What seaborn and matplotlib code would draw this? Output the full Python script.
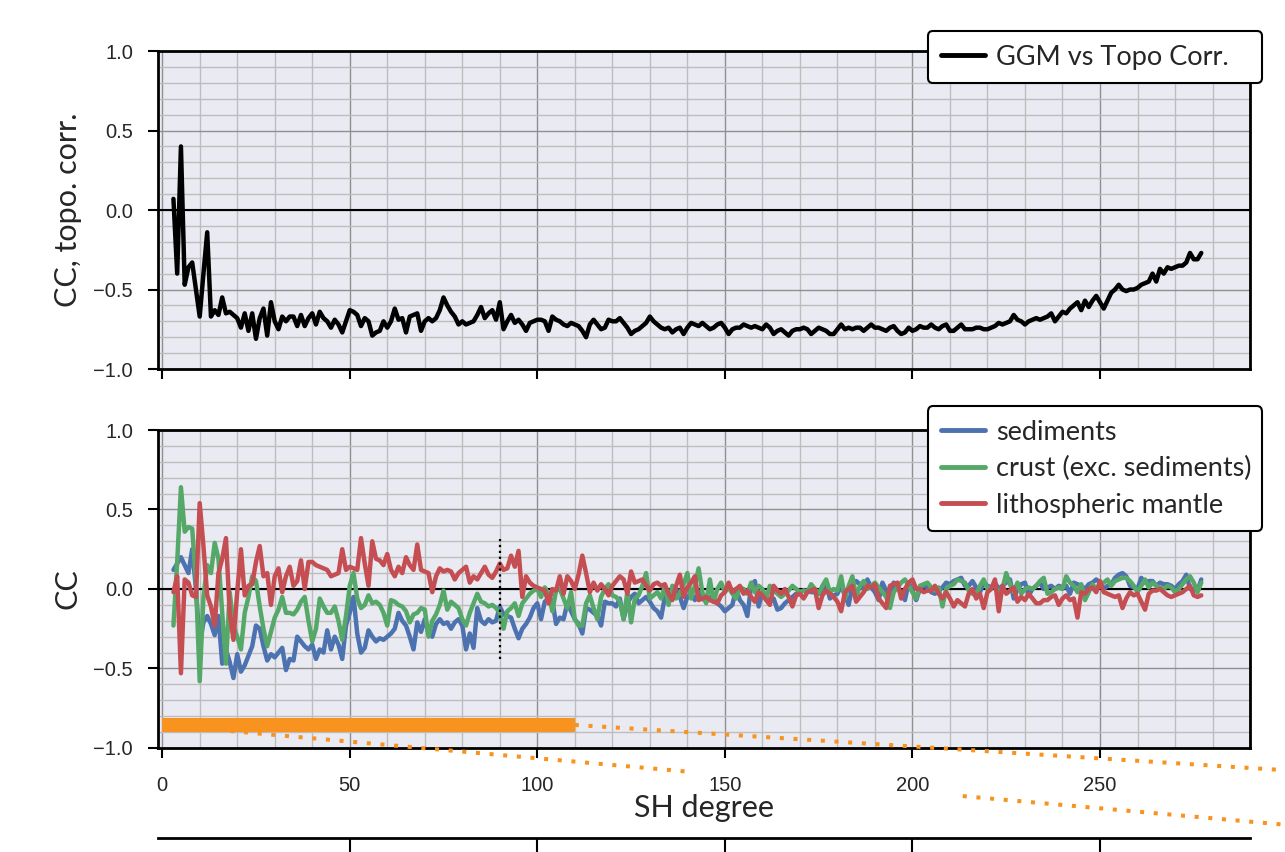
import numpy as np
import pandas as pd
import matplotlib
matplotlib.use("Agg")
import matplotlib.pyplot as plt
import seaborn as sns
from matplotlib.ticker import MultipleLocator
from matplotlib.lines import Line2D

# SH degree of the first value in every series
degree_start = 3

# GGM vs topography correction (top panel), degree 3..277
topo_corr = [
    0.07, -0.40, 0.40, -0.47, -0.36, -0.33, -0.50, -0.67, -0.40, -0.14,
    -0.67, -0.63, -0.66, -0.55, -0.65, -0.64, -0.66, -0.68, -0.74, -0.65,
    -0.76, -0.65, -0.81, -0.68, -0.62, -0.79, -0.58, -0.70, -0.75, -0.67,
    -0.70, -0.67, -0.67, -0.73, -0.66, -0.73, -0.68, -0.65, -0.72, -0.64,
    -0.68, -0.70, -0.74, -0.69, -0.72, -0.77, -0.70, -0.63, -0.64, -0.66,
    -0.73, -0.68, -0.70, -0.79, -0.77, -0.76, -0.70, -0.74, -0.70, -0.62,
    -0.69, -0.68, -0.77, -0.67, -0.66, -0.65, -0.76, -0.70, -0.68, -0.70,
    -0.68, -0.63, -0.55, -0.60, -0.64, -0.67, -0.72, -0.70, -0.72, -0.71,
    -0.70, -0.66, -0.61, -0.68, -0.65, -0.63, -0.69, -0.58, -0.75, -0.70,
    -0.66, -0.71, -0.69, -0.72, -0.76, -0.71, -0.70, -0.69, -0.69, -0.70,
    -0.76, -0.67, -0.69, -0.70, -0.72, -0.73, -0.71, -0.72, -0.73, -0.76,
    -0.80, -0.72, -0.69, -0.72, -0.75, -0.74, -0.69, -0.70, -0.70, -0.68,
    -0.71, -0.74, -0.78, -0.76, -0.75, -0.73, -0.71, -0.67, -0.70, -0.72,
    -0.74, -0.75, -0.74, -0.77, -0.75, -0.74, -0.78, -0.74, -0.71, -0.72,
    -0.73, -0.71, -0.73, -0.75, -0.74, -0.72, -0.71, -0.74, -0.78, -0.75,
    -0.74, -0.74, -0.72, -0.73, -0.74, -0.73, -0.74, -0.75, -0.72, -0.74,
    -0.78, -0.76, -0.75, -0.77, -0.79, -0.76, -0.75, -0.75, -0.74, -0.75,
    -0.78, -0.76, -0.74, -0.75, -0.76, -0.78, -0.78, -0.75, -0.72, -0.75,
    -0.74, -0.75, -0.74, -0.74, -0.76, -0.74, -0.72, -0.74, -0.74, -0.75,
    -0.76, -0.74, -0.73, -0.76, -0.78, -0.77, -0.74, -0.76, -0.75, -0.73,
    -0.74, -0.74, -0.72, -0.74, -0.75, -0.73, -0.72, -0.76, -0.76, -0.74,
    -0.72, -0.75, -0.75, -0.75, -0.74, -0.74, -0.75, -0.75, -0.74, -0.73,
    -0.71, -0.72, -0.71, -0.70, -0.66, -0.69, -0.70, -0.72, -0.70, -0.69,
    -0.68, -0.69, -0.68, -0.67, -0.65, -0.70, -0.67, -0.64, -0.65, -0.62,
    -0.60, -0.58, -0.63, -0.57, -0.61, -0.57, -0.54, -0.58, -0.62, -0.57,
    -0.52, -0.50, -0.47, -0.50, -0.51, -0.50, -0.50, -0.49, -0.47, -0.46,
    -0.45, -0.40, -0.45, -0.37, -0.40, -0.36, -0.37, -0.36, -0.35, -0.35,
    -0.33, -0.27, -0.31, -0.31, -0.27,
]

sediments = [
    0.12, 0.16, 0.20, 0.15, 0.10, 0.25, 0.00, -0.35, -0.21, -0.17,
    -0.22, -0.29, -0.17, -0.47, -0.38, -0.46, -0.56, -0.41, -0.52, -0.48,
    -0.42, -0.36, -0.23, -0.25, -0.36, -0.45, -0.41, -0.43, -0.40, -0.37,
    -0.51, -0.44, -0.45, -0.30, -0.33, -0.36, -0.38, -0.35, -0.44, -0.38,
    -0.40, -0.26, -0.38, -0.30, -0.35, -0.44, -0.23, -0.15, -0.05, -0.28,
    -0.40, -0.37, -0.26, -0.30, -0.33, -0.31, -0.32, -0.30, -0.28, -0.25,
    -0.15, -0.20, -0.23, -0.30, -0.38, -0.21, -0.27, -0.19, -0.28, -0.30,
    -0.22, -0.19, -0.22, -0.21, -0.25, -0.21, -0.19, -0.23, -0.38, -0.28,
    -0.37, -0.12, -0.20, -0.22, -0.19, -0.21, -0.20, -0.11, -0.16, -0.17,
    -0.18, -0.25, -0.31, -0.25, -0.22, -0.18, -0.12, -0.09, -0.19, -0.08,
    -0.06, -0.07, -0.22, -0.18, -0.19, -0.09, -0.14, -0.19, -0.22, -0.28,
    -0.12, -0.13, -0.15, -0.17, -0.23, -0.08, -0.09, -0.09, -0.11, -0.06,
    -0.19, -0.09, -0.05, -0.03, -0.09, -0.07, -0.05, -0.08, -0.12, -0.14,
    -0.18, -0.05, -0.08, -0.04, 0.00, -0.05, -0.12, -0.05, -0.03, -0.07,
    -0.02, -0.06, -0.08, -0.05, -0.06, -0.09, -0.11, -0.14, -0.12, -0.10,
    0.00, -0.07, -0.10, -0.17, 0.02, 0.05, -0.11, -0.02, -0.05, -0.08,
    -0.06, -0.13, -0.12, -0.09, -0.07, -0.05, -0.03, -0.02, -0.01, -0.01,
    -0.02, -0.02, -0.03, 0.00, 0.03, -0.06, -0.04, -0.03, 0.02, -0.04,
    -0.10, 0.02, 0.05, 0.03, 0.00, 0.06, 0.01, -0.02, -0.07, 0.04,
    -0.01, -0.06, 0.04, 0.01, -0.02, -0.07, 0.04, -0.01, -0.07, 0.00,
    0.02, 0.01, -0.02, -0.03, -0.01, 0.01, 0.04, 0.03, 0.05, 0.06,
    0.07, 0.02, 0.02, 0.05, 0.01, -0.02, 0.04, 0.02, 0.01, 0.04,
    0.00, 0.02, 0.04, 0.06, -0.06, 0.00, 0.03, 0.04, -0.04, 0.00,
    0.02, 0.04, 0.00, 0.01, 0.02, 0.00, 0.02, 0.01, 0.02, -0.03,
    0.04, 0.03, 0.02, 0.00, 0.03, 0.04, 0.06, 0.04, 0.00, 0.02,
    0.03, 0.07, 0.09, 0.10, 0.08, 0.02, 0.01, 0.00, 0.07, 0.04,
    0.05, 0.05, 0.02, 0.04, 0.03, 0.03, 0.02, 0.00, 0.03, 0.05,
    0.09, 0.00, 0.00, -0.01, 0.06,
]

crust = [
    -0.23, 0.17, 0.64, 0.36, 0.39, 0.38, 0.05, -0.58, -0.05, 0.15,
    0.10, 0.29, 0.19, -0.15, -0.47, -0.02, -0.23, -0.30, -0.38, -0.15,
    -0.05, 0.08, 0.05, -0.11, -0.25, -0.36, -0.27, -0.18, -0.13, -0.05,
    -0.15, -0.15, -0.16, -0.13, -0.08, -0.05, -0.20, -0.33, -0.25, -0.06,
    -0.11, -0.15, -0.15, -0.11, -0.20, -0.32, -0.17, 0.02, 0.10, -0.06,
    -0.12, -0.10, -0.04, -0.09, -0.08, -0.10, -0.15, -0.23, -0.07, -0.08,
    -0.10, -0.11, -0.14, -0.21, -0.16, -0.15, -0.12, -0.13, -0.30, -0.20,
    -0.16, -0.10, -0.01, -0.13, -0.08, -0.10, -0.12, -0.19, -0.23, -0.15,
    -0.09, -0.03, -0.08, -0.09, -0.11, -0.10, -0.12, -0.15, -0.25, -0.14,
    -0.12, -0.09, -0.17, -0.09, -0.06, -0.03, -0.01, 0.00, -0.05, 0.01,
    -0.03, -0.14, -0.01, 0.00, -0.06, -0.12, -0.02, -0.19, -0.23, -0.23,
    -0.09, -0.04, -0.12, -0.19, -0.05, 0.00, 0.03, -0.04, -0.05, -0.08,
    -0.19, -0.02, -0.21, -0.06, -0.04, 0.02, 0.10, -0.06, -0.04, -0.02,
    -0.06, 0.02, -0.10, 0.02, -0.06, -0.03, 0.03, 0.10, -0.06, 0.02,
    0.13, -0.02, -0.09, 0.06, -0.08, 0.00, 0.04, -0.02, 0.01, -0.03,
    -0.06, 0.01, 0.00, -0.03, 0.04, -0.02, 0.02, 0.00, -0.06, 0.02,
    -0.01, -0.03, -0.05, -0.03, -0.01, 0.02, 0.00, -0.02, -0.01, -0.02,
    0.03, 0.00, -0.03, 0.02, 0.06, -0.02, 0.00, -0.01, 0.08, -0.06,
    0.02, 0.08, -0.05, 0.02, 0.05, 0.00, 0.02, 0.04, 0.01, -0.02,
    -0.05, -0.12, -0.02, 0.01, 0.04, 0.06, 0.02, -0.02, -0.06, 0.02,
    0.03, 0.04, 0.01, -0.01, 0.01, -0.11, 0.00, 0.02, 0.03, 0.06,
    0.05, 0.04, -0.01, -0.03, -0.04, 0.02, 0.06, 0.00, 0.01, 0.02,
    -0.02, 0.00, 0.10, 0.03, -0.02, 0.04, -0.03, 0.00, 0.01, 0.00,
    0.02, 0.05, 0.07, -0.03, -0.02, 0.00, 0.01, 0.00, 0.08, 0.04,
    0.02, -0.02, 0.03, -0.07, -0.02, 0.03, 0.00, 0.02, 0.04, 0.06,
    0.02, 0.05, 0.06, 0.07, 0.07, 0.05, 0.02, -0.02, 0.02, 0.06,
    0.01, 0.04, 0.02, 0.01, 0.00, 0.02, 0.01, -0.02, 0.00, 0.03,
    0.06, 0.08, 0.04, -0.02, 0.04,
]

mantle = [
    -0.02, 0.08, -0.53, 0.06, 0.04, -0.04, -0.05, 0.54, 0.27, -0.04,
    -0.11, -0.23, 0.10, 0.19, 0.32, -0.15, -0.32, -0.02, 0.25, -0.04,
    0.02, 0.03, 0.17, 0.27, 0.08, 0.10, -0.10, 0.08, 0.13, -0.02,
    0.08, 0.14, 0.02, 0.05, 0.18, 0.00, 0.17, 0.17, 0.15, 0.14,
    0.13, 0.12, 0.08, 0.09, 0.10, 0.25, 0.12, 0.14, 0.13, 0.12,
    0.32, 0.16, 0.02, 0.30, 0.19, 0.18, 0.15, 0.22, 0.12, 0.08,
    0.14, 0.10, 0.20, 0.15, 0.12, 0.28, 0.12, 0.11, 0.10, -0.02,
    0.08, 0.13, 0.11, 0.12, 0.11, 0.06, 0.10, 0.12, 0.14, 0.04,
    0.08, 0.06, 0.10, 0.14, 0.09, 0.07, 0.11, 0.16, 0.12, 0.13,
    0.21, 0.14, 0.24, -0.05, 0.08, 0.04, 0.02, 0.01, 0.00, -0.01,
    -0.09, 0.00, -0.01, 0.08, -0.03, 0.08, 0.05, 0.00, 0.09, 0.21,
    0.10, -0.02, 0.04, -0.01, 0.03, 0.00, -0.04, 0.02, 0.05, 0.08,
    0.06, -0.03, 0.11, 0.04, 0.05, 0.06, 0.02, -0.01, 0.03, 0.04,
    0.02, 0.03, -0.03, -0.07, 0.02, 0.09, -0.05, 0.01, 0.04, 0.08,
    -0.07, -0.06, -0.05, -0.07, -0.08, -0.09, -0.04, -0.02, 0.04, -0.02,
    0.00, 0.02, -0.03, -0.01, -0.05, -0.08, -0.02, -0.04, -0.07, -0.10,
    0.02, -0.01, -0.03, 0.00, -0.05, -0.11, -0.04, -0.03, -0.06, -0.02,
    -0.01, 0.00, -0.12, -0.04, -0.01, -0.03, -0.05, -0.08, -0.14, -0.02,
    0.00, 0.02, -0.08, -0.05, -0.02, 0.02, 0.01, 0.03, -0.06, -0.09,
    -0.12, 0.02, 0.03, 0.04, -0.06, 0.00, 0.04, 0.06, 0.00, 0.00,
    -0.02, -0.01, -0.01, 0.02, -0.03, -0.06, -0.02, -0.06, -0.11, -0.07,
    -0.09, -0.11, -0.03, 0.00, -0.06, -0.03, -0.12, -0.02, 0.00, 0.06,
    -0.14, 0.02, -0.03, -0.01, 0.01, -0.08, -0.05, -0.07, -0.03, -0.06,
    -0.09, -0.09, -0.07, -0.07, -0.05, -0.04, -0.10, -0.06, -0.04, -0.07,
    -0.06, -0.18, -0.02, -0.03, 0.00, 0.01, -0.02, 0.05, -0.02, -0.03,
    -0.04, -0.05, -0.04, -0.12, -0.06, -0.02, -0.04, -0.03, -0.08, -0.13,
    -0.03, -0.01, -0.01, 0.00, -0.02, -0.04, -0.05, -0.04, -0.03, -0.02,
    0.00, 0.02, -0.04, -0.05, -0.04,
]

component_names = ["sediments", "crust (exc. sediments)", "lithospheric mantle"]
component_colors = ["#4C72B0", "#55A868", "#C44E52"]

# highlighted degree range (orange band) and the dotted cut-off marker
band_degrees = [0, 110]
band_cc = [-0.90, -0.81]
cutoff_degree = 90
cutoff_cc = [-0.44, 0.33]

sns.set_theme(style="darkgrid")
plt.rcParams["font.family"] = ["Liberation Sans", "DejaVu Sans"]
label_font = "Lato"

top_df = pd.DataFrame({
    "degree": np.arange(degree_start, degree_start + len(topo_corr)),
    "cc": topo_corr,
})
parts = []
for name, vals in zip(component_names, [sediments, crust, mantle]):
    parts.append(pd.DataFrame({
        "degree": np.arange(degree_start, degree_start + len(vals)),
        "cc": vals,
        "component": name,
    }))
bottom_df = pd.concat(parts, ignore_index=True)

fig = plt.figure(figsize=(12.85, 8.52), dpi=100)
left, width, height = 0.123, 0.8498, 0.3732
ax1 = fig.add_axes([left, 0.5669, width, height])
ax2 = fig.add_axes([left, 0.1221, width, height])

line_w = 3.2
sns.lineplot(data=top_df, x="degree", y="cc", color="black", linewidth=line_w,
             label="GGM vs Topo Corr.", ax=ax1)
sns.lineplot(data=bottom_df, x="degree", y="cc", hue="component",
             hue_order=component_names, palette=component_colors,
             linewidth=line_w, ax=ax2)
for ax in (ax1, ax2):
    for ln in ax.get_lines():
        ln.set_linewidth(line_w)

for ax in (ax1, ax2):
    ax.set_facecolor("#EAEAF2")
    ax.set_xlim(-1.1, 290)
    ax.set_ylim(-1, 1)
    ax.xaxis.set_major_locator(MultipleLocator(50))
    ax.xaxis.set_minor_locator(MultipleLocator(10))
    ax.yaxis.set_major_locator(MultipleLocator(0.5))
    ax.yaxis.set_minor_locator(MultipleLocator(0.1))
    ax.grid(which="major", color="#8f8f8f", lw=1.0)
    ax.grid(which="minor", color="#bdbdbd", lw=1.0)
    ax.axhline(0, color="black", lw=1.5, zorder=1.5)
    for s in ax.spines.values():
        s.set_visible(True)
        s.set_color("black")
        s.set_linewidth(2)
    ax.tick_params(which="major", direction="out", length=7, width=1.5,
                   color="black", bottom=True, left=True, labelsize=14.5,
                   labelcolor="#262626")
    ax.tick_params(axis="y", pad=11)
    ax.tick_params(axis="x", pad=13)
    ax.tick_params(which="minor", length=0)
    ax.set_xlabel("")
    ax.yaxis.set_label_coords(-0.07, 0.5)

ax1.tick_params(labelbottom=False)
ax1.set_ylabel("CC, topo. corr.", fontsize=22, family=label_font)
ax2.set_ylabel("CC", fontsize=22, family=label_font)
ax2.set_xlabel("SH degree", fontsize=22, family=label_font)
ax2.xaxis.set_label_coords(0.5, -0.145)

# dotted marker at the cut-off degree
ax2.vlines(cutoff_degree, cutoff_cc[0], cutoff_cc[1], colors="black",
           linestyles=":", lw=1.6, zorder=3)

# orange band over the highlighted degree range
orange = "#F7931E"
ax2.barh(y=np.mean(band_cc), width=band_degrees[1] - band_degrees[0],
         left=band_degrees[0], height=band_cc[1] - band_cc[0],
         color=orange, edgecolor="none", linewidth=0, zorder=4)

# dotted connectors running off towards a zoom panel outside the figure
to_fig = ax2.transData + fig.transFigure.inverted()
start_lo = to_fig.transform((band_degrees[0], np.mean(band_cc)))
start_hi = to_fig.transform((band_degrees[1], np.mean(band_cc)))
end_lo = np.array([1.0, 0.032])
end_hi = np.array([1.0, 0.096])
dotted = dict(color=orange, lw=2.9, linestyle=(0, (1, 2.4)),
              transform=fig.transFigure, clip_on=False, zorder=3)
ax2.add_line(Line2D([start_hi[0], end_hi[0]], [start_hi[1], end_hi[1]], **dotted))
for t0, t1 in [(0.0, 0.466), (0.713, 1.0)]:
    p0 = start_lo + t0 * (end_lo - start_lo)
    p1 = start_lo + t1 * (end_lo - start_lo)
    ax2.add_line(Line2D([p0[0], p1[0]], [p0[1], p1[1]], **dotted))

# legends share one fixed-width box, text left aligned
for ax, top in [(ax1, 1.063), (ax2, 1.075)]:
    leg = ax.legend(loc="upper left", bbox_to_anchor=(0.705, 0, 0.306, top),
                    mode="expand", borderaxespad=0,
                    frameon=True, facecolor="white", edgecolor="black",
                    framealpha=1, handlelength=1.6, handletextpad=0.4,
                    labelspacing=0.42, borderpad=0.5,
                    prop={"family": label_font, "size": 19.5})
    leg.get_frame().set_linewidth(1.5)
    leg.set_title(None)
    for h in leg.get_lines():
        h.set_linewidth(3.5)
    leg.set_zorder(10)

# panel below, only its top edge is inside the figure
ax3 = fig.add_axes([left, -0.25, width, 0.2665])
ax3.set_facecolor("white")
ax3.set_xlim(-1.1, 290)
ax3.set_xticks([50, 100, 150, 200, 250])
ax3.set_yticks([])
ax3.grid(False)
for name, s in ax3.spines.items():
    s.set_visible(name == "top")
ax3.spines["top"].set_color("black")
ax3.spines["top"].set_linewidth(2)
ax3.tick_params(top=True, bottom=False, labeltop=False, labelbottom=False,
                direction="in", length=12, width=1.5, color="black")

fig.savefig("out.png", dpi=100)
